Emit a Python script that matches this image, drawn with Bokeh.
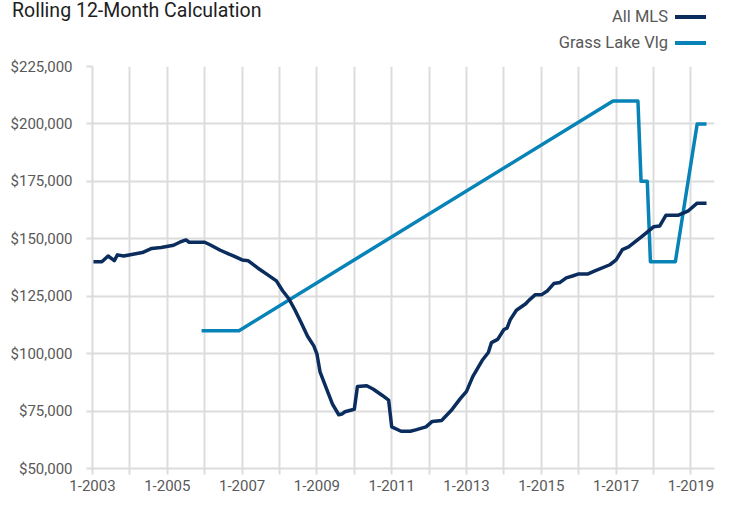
from bokeh.plotting import figure
from bokeh.layouts import column
from bokeh.models import Range1d, FixedTicker, NumeralTickFormatter, ColumnDataSource, Div
from bokeh.embed import file_html
from bokeh.resources import INLINE

# ---------------- data ----------------
title_text = "Rolling 12-Month Calculation"
series_names = ["All MLS", "Grass Lake Vlg"]
series_colors = ["#0a2d5e", "#0883b8"]

all_mls_dates = [
    "2003-01", "2003-04", "2003-06", "2003-08", "2003-09", "2003-11",
    "2004-02", "2004-05", "2004-08", "2004-11", "2005-03", "2005-05",
    "2005-07", "2005-08", "2006-01", "2006-03", "2006-06", "2006-09",
    "2006-10", "2007-01", "2007-03", "2007-06", "2007-09", "2007-12",
    "2008-02", "2008-04", "2008-06", "2008-08", "2008-10", "2008-12",
    "2009-01", "2009-02", "2009-04", "2009-06", "2009-08", "2009-09",
    "2009-10", "2010-01", "2010-02", "2010-05", "2010-07", "2010-10",
    "2010-12", "2011-01", "2011-04", "2011-07", "2011-09", "2011-12",
    "2012-02", "2012-05", "2012-08", "2012-11", "2013-01", "2013-03",
    "2013-06", "2013-08", "2013-09", "2013-11", "2014-01", "2014-02",
    "2014-03", "2014-05", "2014-08", "2014-09", "2014-11", "2015-01",
    "2015-03", "2015-05", "2015-07", "2015-09", "2015-11", "2016-01",
    "2016-04", "2016-06", "2016-11", "2017-01", "2017-03", "2017-05",
    "2017-09", "2017-10", "2018-01", "2018-03", "2018-05", "2018-09",
    "2018-12", "2019-03", "2019-06",
]
all_mls_values = [
    140000, 140000, 142500, 140500, 143000, 142500,
    143300, 144000, 145800, 146200, 147200, 148500,
    149500, 148500, 148500, 147200, 145000, 143200,
    142700, 140800, 140400, 137300, 134500, 131700,
    127400, 123900, 118900, 113300, 107600, 103400,
    99900, 92100, 85000, 78000, 73400, 73700,
    74700, 75800, 85700, 86000, 84600, 81800,
    79800, 68100, 66200, 66200, 66900, 68100,
    70500, 70900, 75100, 80400, 83600, 90000,
    97000, 100500, 104800, 106200, 110500, 111100,
    114700, 118900, 121700, 123200, 125600, 125600,
    127400, 130500, 131000, 133000, 133800, 134700,
    134700, 135900, 138700, 140800, 145300, 146500,
    150700, 151800, 155200, 155600, 160300, 160300,
    162000, 165500, 165500,
]

grass_lake_dates = [
    "2005-12", "2006-12", "2016-12", "2017-08", "2017-09", "2017-11",
    "2017-12", "2018-08", "2019-03", "2019-06",
]
grass_lake_values = [
    110000, 110000, 210000, 210000, 175000, 175000,
    140000, 140000, 200000, 200000,
]

x_tick_years = list(range(2003, 2020))
x_tick_labels = {y: (f"1-{y}" if (y - 2003) % 2 == 0 else "") for y in x_tick_years}
y_ticks = [50000, 75000, 100000, 125000, 150000, 175000, 200000, 225000]


def to_year_fraction(d):
    yr, mo = d.split("-")
    return int(yr) + (int(mo) - 1) / 12.0


FONT = "Roboto"
GRID = "#dcdcdc"
LABEL = "#595959"

W = 717
HEADER_H = 56
MAIN_H = 443

# ---------------- header: title + legend (label left of line sample) ----------------
legend_rows = ""
for i, (name, color) in enumerate(zip(series_names, series_colors)):
    top_txt = 6.5 + i * 26.1
    top_line = 14.5 + i * 26.1
    legend_rows += (
        f'<div style="position:absolute;right:49px;top:{top_txt:.1f}px;font-size:16.5px;'
        f'line-height:20px;color:{LABEL};white-space:nowrap;text-align:right;">{name}</div>'
        f'<div style="position:absolute;left:675px;top:{top_line:.1f}px;width:31px;height:4px;'
        f'background:{color};"></div>'
    )

header_html = (
    f'<div style="position:relative;width:{W}px;height:{HEADER_H}px;'
    f'font-family:{FONT},sans-serif;margin:0;padding:0;">'
    f'<div style="position:absolute;left:12px;top:-1px;font-size:19.5px;line-height:24px;'
    f'color:#1e1e1e;white-space:nowrap;">{title_text}</div>'
    f'{legend_rows}</div>'
)
header = Div(text=header_html, width=W, height=HEADER_H, margin=0)

# ---------------- main chart ----------------
p = figure(
    width=W, height=MAIN_H,
    x_range=Range1d(2003, 2019.63), y_range=Range1d(50000, 225000),
    output_backend="svg", toolbar_location=None,
    min_border_left=92, min_border_right=3, min_border_top=10, min_border_bottom=31,
    margin=0,
)
p.outline_line_color = None

src_mls = ColumnDataSource(dict(x=[to_year_fraction(d) for d in all_mls_dates], y=all_mls_values))
src_gl = ColumnDataSource(dict(x=[to_year_fraction(d) for d in grass_lake_dates], y=grass_lake_values))

p.line("x", "y", source=src_gl, line_color=series_colors[1], line_width=3.5, line_join="round")
p.line("x", "y", source=src_mls, line_color=series_colors[0], line_width=3.5, line_join="round")

p.xaxis.ticker = FixedTicker(ticks=x_tick_years)
p.xaxis.major_label_overrides = x_tick_labels
p.yaxis.ticker = FixedTicker(ticks=y_ticks)
p.yaxis.formatter = NumeralTickFormatter(format="$0,0")

for ax in (p.xaxis, p.yaxis):
    ax.axis_line_color = GRID
    ax.axis_line_width = 2
    ax.major_tick_line_color = GRID
    ax.major_tick_line_width = 2
    ax.major_tick_out = 6
    ax.major_tick_in = 0
    ax.minor_tick_line_color = None
    ax.major_label_text_font = FONT
    ax.major_label_text_font_size = "15px"
    ax.major_label_text_color = LABEL
p.yaxis.major_label_standoff = 14
p.xaxis.major_label_standoff = 5

p.xgrid.grid_line_color = GRID
p.xgrid.grid_line_width = 2
p.ygrid.grid_line_color = GRID
p.ygrid.grid_line_width = 2

layout = column(header, p, spacing=0)
open("out.html", "w").write(file_html(layout, INLINE))
